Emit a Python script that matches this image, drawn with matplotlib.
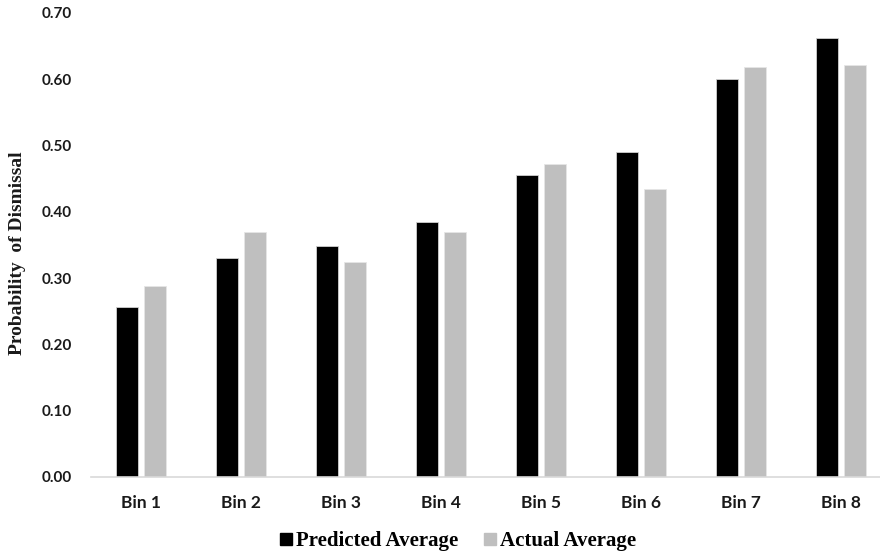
import matplotlib
matplotlib.use("Agg")
import matplotlib.pyplot as plt
import numpy as np
from matplotlib.lines import Line2D

bins = ["Bin 1", "Bin 2", "Bin 3", "Bin 4", "Bin 5", "Bin 6", "Bin 7", "Bin 8"]
predicted = [0.256, 0.331, 0.348, 0.385, 0.456, 0.490, 0.601, 0.663]
actual = [0.288, 0.369, 0.325, 0.369, 0.472, 0.434, 0.618, 0.622]

W, H = 880, 559
fig = plt.figure(figsize=(W / 100, H / 100), dpi=100)
ax = fig.add_axes([91 / W, (H - 477) / H, (W - 91) / W, (477 - 13) / H])

x = np.arange(len(bins))
bw = 0.22
ax.bar(x - 0.14, predicted, bw, color="black", edgecolor="#d0d0d0", linewidth=0.6)
ax.bar(x + 0.14, actual, bw, color="#bfbfbf", edgecolor="#e6e6e6", linewidth=0.6)

ax.set_xlim(-0.5, -0.5 + (W - 91) / 100)
ax.set_ylim(0, 0.70)
ax.set_yticks(np.arange(0, 0.71, 0.10))
ax.set_yticklabels([f"{v:.2f}" for v in np.arange(0, 0.71, 0.10)])
ax.set_xticks(x)
ax.set_xticklabels(bins)

for lab in ax.get_yticklabels():
    lab.set(family="Lato", weight="bold", size=11, color="#1a1a1a")
for lab in ax.get_xticklabels():
    lab.set(family="Lato", weight="bold", size=12.5, color="#1a1a1a")
ax.tick_params(axis="y", length=0, pad=14)
ax.tick_params(axis="x", length=0, pad=13)

for s in ["top", "right", "left"]:
    ax.spines[s].set_visible(False)
ax.spines["bottom"].set_color("#d9d9d9")
ax.spines["bottom"].set_linewidth(1.2)

fig.text(18 / W, 1 - 253 / H, "Probability  of Dismissal", rotation=90,
         family="Liberation Serif", weight="bold", size=14,
         ha="center", va="center", color="#1a1a1a")

handles = [
    Line2D([], [], marker="s", linestyle="", color="black", markersize=9),
    Line2D([], [], marker="s", linestyle="", color="#bfbfbf", markersize=9),
]
fig.legend(handles, ["Predicted Average", "Actual Average"], loc="center",
           bbox_to_anchor=(456 / W, 1 - 541 / H), ncol=2, frameon=False,
           prop=dict(family="Liberation Serif", weight="bold", size=15),
           handletextpad=0.0, columnspacing=1.0, handlelength=1.0)

fig.savefig("out.png", dpi=100)
